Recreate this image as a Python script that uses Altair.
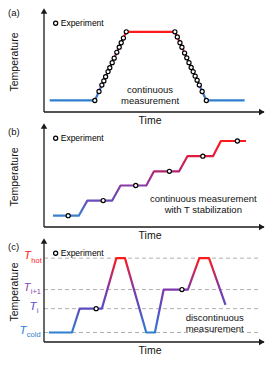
import altair as alt
import pandas as pd

# ---------------- data (arbitrary units: time 0-100, temperature 0-100) ----------------
# Panel (a): continuous measurement
a_time = [2.6, 23.1, 37.4, 59.5, 73.8, 91.2]
a_temp = [11.3, 11.3, 78.6, 78.6, 11.3, 11.3]
a_exp_time = [23.1, 25.0, 26.3, 27.2, 28.0, 29.1, 29.9, 31.0, 31.9, 33.1, 34.2, 35.1, 36.1, 37.4,
              59.5, 60.6, 61.8, 62.7, 63.9, 64.9, 65.9, 66.9, 67.8, 68.7, 69.6, 70.6, 71.9, 73.8]
a_exp_temp = [11.3, 20.1, 26.4, 30.5, 34.6, 39.6, 43.4, 48.4, 52.8, 58.5, 63.5, 67.9, 72.5, 78.6,
              78.6, 73.6, 67.9, 63.5, 57.8, 53.1, 48.4, 43.7, 39.6, 35.2, 31.1, 26.4, 20.1, 11.3]
a_notes = ["continuous", "measurement"]

# Panel (b): continuous measurement with T stabilization
b_time = [4.1, 15.8, 19.7, 31.0, 34.8, 46.5, 50.0, 61.4, 65.2, 76.8, 80.4, 91.8]
b_temp = [11.1, 11.1, 25.9, 25.9, 40.7, 40.7, 54.6, 54.6, 69.4, 69.4, 84.3, 84.3]
b_exp_time = [11.0, 26.9, 41.7, 57.0, 72.2, 87.9]
b_exp_temp = [11.1, 25.9, 40.7, 54.6, 69.4, 84.3]
b_notes = ["continuous measurement", "with T stabilization"]

# Panel (c): discontinuous measurement
c_time = [2.2, 12.7, 16.2, 26.3, 32.9, 36.8, 46.5, 50.4, 54.4, 65.4, 70.6, 75.0, 82.5]
c_temp = [9.3, 9.3, 32.7, 32.7, 82.2, 82.2, 9.3, 9.3, 51.4, 51.4, 82.2, 82.2, 36.4]
c_exp_time = [23.7, 62.7]
c_exp_temp = [32.7, 51.4]
c_levels = [82.2, 51.4, 32.7, 9.3]
c_level_subs = ["hot", "i+1", "i", "cold"]
c_notes = ["discontinuous", "measurement"]

legend_text = "Experiment"
x_title = "Time"
y_title = "Temperature"

# ---------------- styling ----------------
W, H = 220, 102
FONT = "Liberation Sans"
BLUE, RED = "#2f7fd0", "#ff1a1a"
xs = alt.Scale(domain=[0, 100], nice=False, zero=False)
ys = alt.Scale(domain=[0, 100], nice=False, zero=False)


def X(field=None, datum=None):
    if datum is not None:
        return alt.X(datum=datum, type="quantitative", scale=xs, axis=None)
    return alt.X(field, type="quantitative", scale=xs, axis=None)


def Y(field=None, datum=None):
    if datum is not None:
        return alt.Y(datum=datum, type="quantitative", scale=ys, axis=None)
    return alt.Y(field, type="quantitative", scale=ys, axis=None)


def grad(stops):
    return alt.LinearGradient(
        gradient="linear", x1=0, y1=1, x2=0, y2=0,
        stops=[alt.GradientStop(offset=o, color=c) for o, c in stops])


one = pd.DataFrame({"k": [0]})


def panel(letter, lt, lT, et, eT, stops, notes, note_pos, letter_y, extra=None):
    line_df = pd.DataFrame({"t": lt, "T": lT, "o": list(range(len(lt)))})
    exp_df = pd.DataFrame({"t": et, "T": eT})
    layers = []
    if extra:
        layers += extra
    layers.append(
        alt.Chart(line_df).mark_line(stroke=grad(stops), strokeWidth=2.2, strokeJoin="round")
        .encode(x=X("t"), y=Y("T"), order="o:Q"))
    layers.append(
        alt.Chart(exp_df).mark_circle(size=17, fill="white", stroke="black", strokeWidth=1.2, opacity=1)
        .encode(x=X("t"), y=Y("T")))
    # axes with arrows
    layers.append(alt.Chart(one).mark_rule(color="#1a1a1a", strokeWidth=1.3)
                  .encode(x=X(datum=0), y=Y(datum=0), y2=alt.Y2(datum=100)))
    layers.append(alt.Chart(one).mark_rule(color="#1a1a1a", strokeWidth=1.3)
                  .encode(x=X(datum=0), x2=alt.X2(datum=100), y=Y(datum=0)))
    layers.append(alt.Chart(one).mark_point(shape="triangle-up", filled=True, color="#1a1a1a", size=42, opacity=1)
                  .encode(x=X(datum=0), y=Y(datum=99)))
    layers.append(alt.Chart(one).mark_point(shape="triangle-right", filled=True, color="#1a1a1a", size=42, opacity=1)
                  .encode(x=X(datum=99), y=Y(datum=0)))
    # legend
    layers.append(alt.Chart(one).mark_circle(size=17, fill="white", stroke="black", strokeWidth=1.2, opacity=1)
                  .encode(x=X(datum=5.3), y=Y(datum=87)))
    layers.append(alt.Chart(one).mark_text(text=legend_text, font=FONT, fontSize=8.5, align="left",
                                           baseline="middle", color="black")
                  .encode(x=X(datum=7.6), y=Y(datum=87)))
    # notes
    for txt, (nt, nT) in zip(notes, note_pos):
        layers.append(alt.Chart(one).mark_text(text=txt, font=FONT, fontSize=9.5, align="center",
                                               baseline="middle", color="#111")
                      .encode(x=X(datum=nt), y=Y(datum=nT)))
    # titles
    layers.append(alt.Chart(one).mark_text(text=x_title, font=FONT, fontSize=10.5, align="center",
                                           baseline="middle", color="#111")
                  .encode(x=X(datum=48.2), y=alt.value(H + 9)))
    layers.append(alt.Chart(one).mark_text(text=y_title, font=FONT, fontSize=10.5, align="center",
                                           baseline="middle", angle=270, color="#111")
                  .encode(x=alt.value(-29), y=alt.value(H / 2 + 1)))
    layers.append(alt.Chart(one).mark_text(text=letter, font=FONT, fontSize=9.5, align="left",
                                           baseline="middle", color="#111")
                  .encode(x=alt.value(-36), y=alt.value(letter_y)))
    return alt.layer(*layers).properties(width=W, height=H)


pa = panel("(a)", a_time, a_temp, a_exp_time, a_exp_temp,
           [(0, BLUE), (0.5, "#7f3fae"), (1, RED)],
           a_notes, [(48.2, 21.7), (48.2, 10.4)], 3)

pb = panel("(b)", b_time, b_temp, b_exp_time, b_exp_temp,
           [(0, "#3a80cc"), (0.2, "#6a4cb8"), (0.4, "#8a3aa6"), (0.6, "#b3246e"), (0.8, "#e01c40"), (1, RED)],
           b_notes, [(72.4, 27.8), (72.4, 16.7)], 7)

# panel (c) extras: dashed reference lines and T labels
lev_df = pd.DataFrame({"T": c_levels})
c_extra = [alt.Chart(lev_df).mark_rule(color="#b0b0b0", strokeWidth=1, strokeDash=[4, 3])
           .encode(y=Y("T"), x=X(datum=0), x2=alt.X2(datum=97.5))]
label_colors = [RED, "#8a48b8", "#5a50c8", BLUE]
t_end_px = [-13, -13.5, -7.5, -17.5]
for lvl, sub, col, xe in zip(c_levels, c_level_subs, label_colors, t_end_px):
    c_extra.append(alt.Chart(one).mark_text(text="T", font=FONT, fontSize=11.5, fontStyle="italic",
                                            align="right", baseline="alphabetic", dy=1, color=col)
                   .encode(x=alt.value(xe), y=Y(datum=lvl)))
    c_extra.append(alt.Chart(one).mark_text(text=sub, font=FONT, fontSize=7.5,
                                            align="left", baseline="alphabetic", dy=4.5, color=col)
                   .encode(x=alt.value(xe + 0.3), y=Y(datum=lvl)))

pc = panel("(c)", c_time, c_temp, c_exp_time, c_exp_temp,
           [(0, BLUE), (0.32, "#5a4cc0"), (0.58, "#7e38a8"), (1, RED)],
           c_notes, [(77.6, 23.4), (77.6, 13.1)], 7, extra=c_extra)

chart = (alt.vconcat(pa, pb, pc, spacing=13, bounds="flush")
         .properties(padding=0)
         .configure_view(stroke=None))

chart.save("out.html", embed_options={"renderer": "svg", "actions": False})
